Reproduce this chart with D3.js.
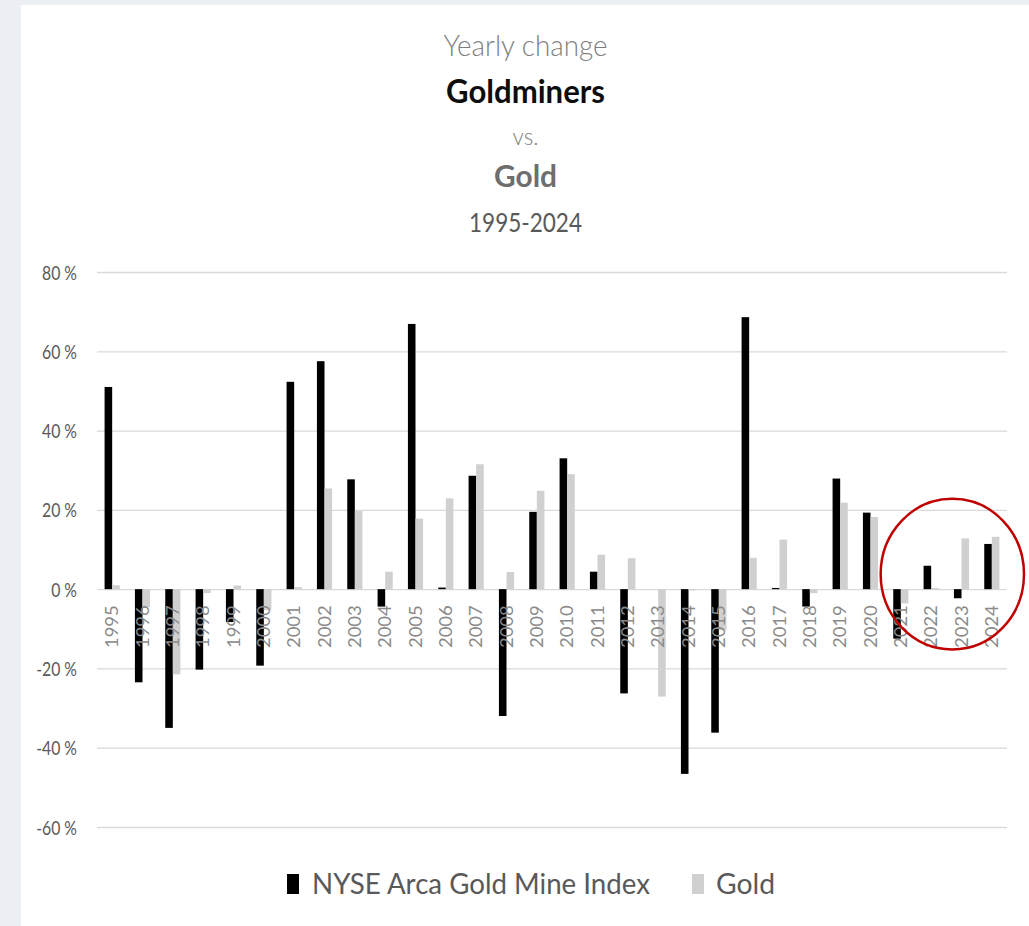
<!DOCTYPE html>
<html>
<head>
<meta charset="utf-8">
<script src="https://cdn.jsdelivr.net/npm/d3@7"></script>
<style>
body{margin:0;background:#ebeff3;}
svg{display:block;font-family:Lato,"Open Sans",sans-serif;}
</style>
</head>
<body>
<svg id="chart" width="1029" height="926"></svg>
<script>
// values (yearly change, %)
const years=["1995","1996","1997","1998","1999","2000","2001","2002","2003","2004",
    "2005","2006","2007","2008","2009","2010","2011","2012","2013","2014",
    "2015","2016","2017","2018","2019","2020","2021","2022","2023","2024"];
const miners=[51,-23.5,-35,-20.3,-8.3,-19.3,52.3,57.5,27.7,-4.4,
    66.9,0.4,28.6,-32,19.5,33,4.4,-26.3,0,-46.6,
    -36.2,68.6,0.3,-4.4,27.9,19.3,-12.5,5.9,-2.3,11.4];
const gold=[1,-4.5,-21.5,-1,0.9,-5.3,0.5,25.4,19.7,4.4,
    17.8,22.9,31.5,4.3,24.8,29,8.7,7.8,-27.1,-0.3,
    -10.4,7.9,12.5,-1,21.8,18.2,-3.6,0.3,12.8,13.2];
const yTicks=[-60,-40,-20,0,20,40,60,80];
const seriesNames=["NYSE Arca Gold Mine Index","Gold"];
const seriesColors=["#000000","#d0d0d0"];
const titleLines=["Yearly change","Goldminers","vs.","Gold","1995-2024"];
const highlightYears=["2021","2024"];

const width=1029, height=926;
const plot={left:97,right:1007,top:272,bottom:827};

const svg=d3.select("#chart");

// white panel
svg.append("rect")
    .attr("x",21).attr("y",5)
    .attr("width",width-21).attr("height",height-5)
    .attr("fill","#ffffff");

const x=d3.scaleBand().domain(years).range([plot.left,plot.right]).padding(0);
const xs=d3.scaleBand().domain(["m","g"]).range([0,x.bandwidth()])
    .paddingInner(0).paddingOuter(1);
const y=d3.scaleLinear().domain([-60,80]).range([plot.bottom,plot.top]);

// gridlines + y labels
const yAxis=svg.append("g")
    .attr("transform",`translate(${plot.left},0)`)
    .call(d3.axisLeft(y).tickValues(yTicks).tickSize(-(plot.right-plot.left))
        .tickPadding(20).tickFormat(d=>d+" %"));
yAxis.select(".domain").remove();
yAxis.selectAll("line").attr("stroke","#d9d9d9").attr("stroke-width",1.3);
const yText=yAxis.selectAll("text")
    .attr("fill","#595959")
    .attr("font-size",19.5)
    .attr("font-family","Lato, sans-serif");
// squeeze labels to the narrow look of the original
let ref=yText.filter(d=>d===80).node().getComputedTextLength();
let sx=35/ref;
yText.attr("x",0).attr("dy","0.36em")
    .attr("transform",`translate(-20,0) scale(${sx},1)`);

// bars
const rows=years.map((yr,i)=>({year:yr,m:miners[i],g:gold[i]}));
const keys=["m","g"];
keys.forEach((k,ki)=>{
    svg.append("g").selectAll("rect")
        .data(rows)
        .join("rect")
        .attr("x",d=>x(d.year)+xs(k))
        .attr("width",xs.bandwidth())
        .attr("y",d=>y(Math.max(0,d[k])))
        .attr("height",d=>Math.abs(y(d[k])-y(0)))
        .attr("fill",seriesColors[ki]);
});

// x labels (rotated)
const xAxis=svg.append("g")
    .attr("transform",`translate(0,${y(0)})`)
    .call(d3.axisBottom(x).tickSize(0));
xAxis.select(".domain").remove();
const xText=xAxis.selectAll("text")
    .attr("fill","#8a8a8a")
    .attr("font-size",16.7)
    .attr("font-family","Lato, sans-serif")
    .attr("text-anchor","end")
    .attr("x",0).attr("y",0).attr("dy","0.36em");
ref=xText.filter(d=>d==="1995").node().getComputedTextLength();
const sy=43/ref;
xText.attr("transform",`translate(0,16) scale(1,${sy}) rotate(-90)`);

// title block
const titleStyle=[
    {size:29,weight:300,fill:"#7f7f7f",base:56,w:164},
    {size:32,weight:700,fill:"#0d0d0d",base:103,w:159},
    {size:23.7,weight:300,fill:"#808080",base:145,w:26},
    {size:30.7,weight:700,fill:"#6e6e6e",base:187,w:63},
    {size:26.5,weight:400,fill:"#595959",base:232,w:113}
];
svg.append("g").selectAll("text")
    .data(titleLines)
    .join("text")
    .attr("x",525.5)
    .attr("y",(d,i)=>titleStyle[i].base)
    .attr("text-anchor","middle")
    .attr("font-size",(d,i)=>titleStyle[i].size)
    .attr("font-weight",(d,i)=>titleStyle[i].weight)
    .attr("fill",(d,i)=>titleStyle[i].fill)
    .attr("textLength",(d,i)=>titleStyle[i].w)
    .attr("lengthAdjust","spacingAndGlyphs")
    .text(d=>d);

// legend
const legendPos=[{sq:287,tx:312,w:338},{sq:692,tx:716,w:59}];
const legend=svg.append("g");
seriesNames.forEach((name,i)=>{
    legend.append("rect")
        .attr("x",legendPos[i].sq).attr("y",874)
        .attr("width",12).attr("height",20)
        .attr("fill",seriesColors[i]);
    legend.append("text")
        .attr("x",legendPos[i].tx).attr("y",894)
        .attr("font-size",28)
        .attr("fill","#595959")
        .attr("textLength",legendPos[i].w)
        .attr("lengthAdjust","spacingAndGlyphs")
        .text(name);
});

// red highlight ring round the last years
const x0=x(highlightYears[0]), x1=x(highlightYears[1])+x.bandwidth();
svg.append("ellipse")
    .attr("cx",(x0+x1)/2+6)
    .attr("cy",y(3.8))
    .attr("rx",(x1-x0)/2+11)
    .attr("ry",y(0)-y(19))
    .attr("fill","none")
    .attr("stroke","#c00000")
    .attr("stroke-width",2.5);
</script>
</body>
</html>
